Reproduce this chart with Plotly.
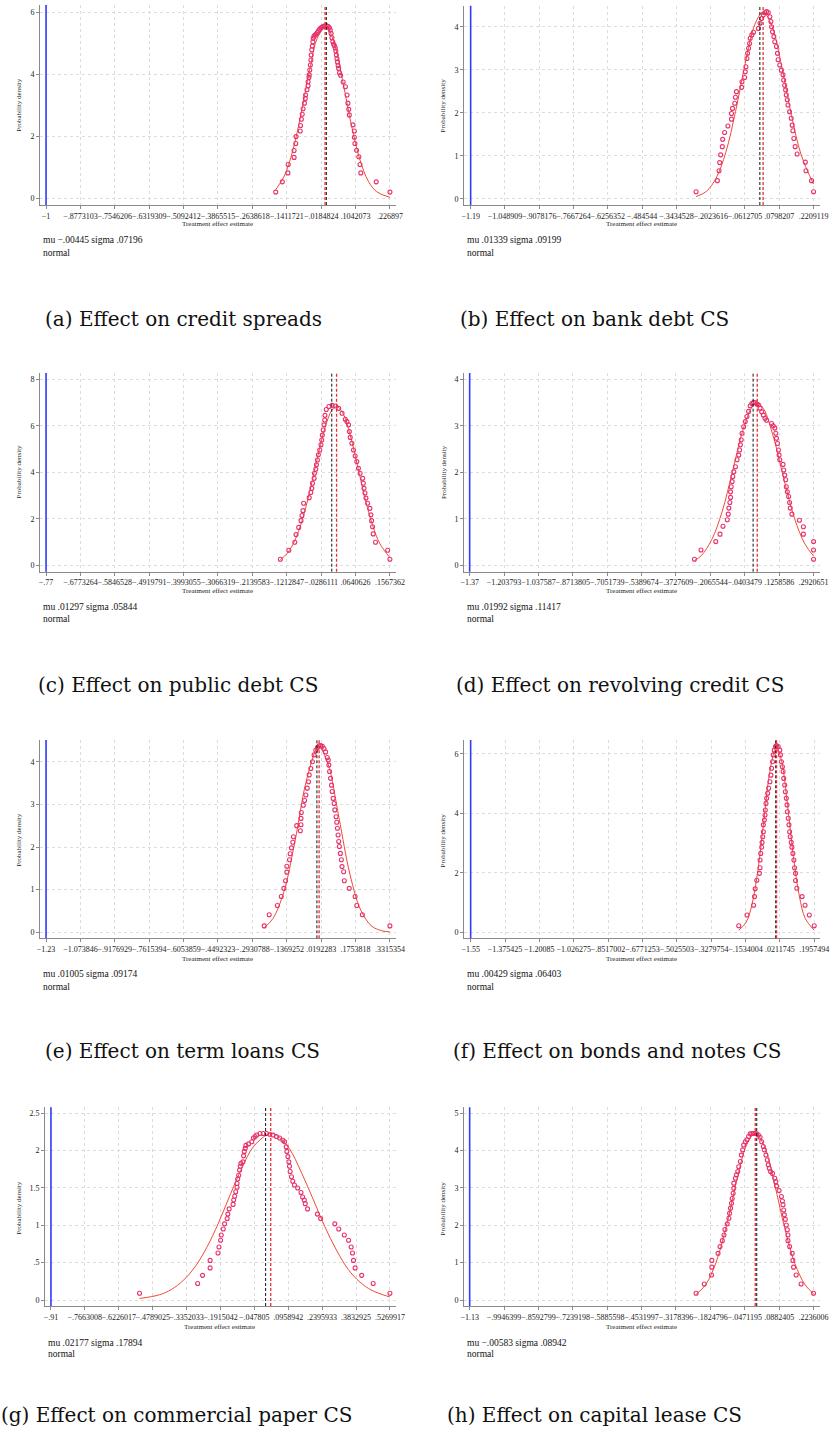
import plotly.graph_objects as go

W, H = 838, 1436

# ---------------- data ----------------
captions = ["(a) Effect on credit spreads", "(b) Effect on bank debt CS",
            "(c) Effect on public debt CS", "(d) Effect on revolving credit CS",
            "(e) Effect on term loans CS", "(f) Effect on bonds and notes CS",
            "(g) Effect on commercial paper CS", "(h) Effect on capital lease CS"]
notes = ["mu −.00445 sigma .07196", "mu .01339 sigma .09199", "mu .01297 sigma .05844",
         "mu .01992 sigma .11417", "mu .01005 sigma .09174", "mu .00429 sigma .06403",
         "mu .02177 sigma .17894", "mu −.00583 sigma .08942"]
mu = [-0.00445, 0.01339, 0.01297, 0.01992, 0.01005, 0.00429, 0.02177, -0.00583]
actual = [-1.0, -1.19, -0.77, -1.37, -1.23, -1.55, -0.91, -1.13]
zero_ref = 0.0

xticks_a = ["−1", "−.8773103", "−.7546206", "−.6319309", "−.5092412", "−.3865515", "−.2638618", "−.1411721", "−.0184824", ".1042073", ".226897"]
xticks_b = ["−1.19", "−1.048909", "−.9078176", "−.7667264", "−.6256352", "−.484544", "−.3434528", "−.2023616", "−.0612705", ".0798207", ".2209119"]
xticks_c = ["−.77", "−.6773264", "−.5846528", "−.4919791", "−.3993055", "−.3066319", "−.2139583", "−.1212847", "−.0286111", ".0640626", ".1567362"]
xticks_d = ["−1.37", "−1.203793", "−1.037587", "−.8713805", "−.7051739", "−.5389674", "−.3727609", "−.2065544", "−.0403479", ".1258586", ".2920651"]
xticks_e = ["−1.23", "−1.073846", "−.9176929", "−.7615394", "−.6053859", "−.4492323", "−.2930788", "−.1369252", ".0192283", ".1753818", ".3315354"]
xticks_f = ["−1.55", "−1.375425", "−1.20085", "−1.026275", "−.8517002", "−.6771253", "−.5025503", "−.3279754", "−.1534004", ".0211745", ".1957494"]
xticks_g = ["−.91", "−.7663008", "−.6226017", "−.4789025", "−.3352033", "−.1915042", "−.047805", ".0958942", ".2395933", ".3832925", ".5269917"]
xticks_h = ["−1.13", "−.9946399", "−.8592799", "−.7239198", "−.5885598", "−.4531997", "−.3178396", "−.1824796", "−.0471195", ".0882405", ".2236006"]

yticks_a = ["0", "2", "4", "6"]
yticks_b = ["0", "1", "2", "3", "4"]
yticks_c = ["0", "2", "4", "6", "8"]
yticks_d = ["0", "1", "2", "3", "4"]
yticks_e = ["0", "1", "2", "3", "4"]
yticks_f = ["0", "2", "4", "6"]
yticks_g = ["0", ".5", "1", "1.5", "2", "2.5"]
yticks_h = ["0", "1", "2", "3", "4", "5"]

# kernel density points (x, density)
dots_a = [(-0.1805, 0.20), (-0.157, 0.53), (-0.137, 0.82), (-0.136, 1.09), (-0.115, 1.32), (-0.115, 1.54),
          (-0.109, 1.77), (-0.108, 1.99), (-0.093, 2.17), (-0.092, 2.35), (-0.089, 2.55), (-0.086, 2.71),
          (-0.083, 2.89), (-0.078, 3.07), (-0.075, 3.22), (-0.074, 3.33), (-0.069, 3.50), (-0.065, 3.63),
          (-0.065, 3.76), (-0.062, 3.90), (-0.061, 3.98), (-0.059, 4.14), (-0.057, 4.30), (-0.055, 4.46),
          (-0.054, 4.62), (-0.052, 4.79), (-0.050, 4.91), (-0.048, 5.05), (-0.047, 5.16), (-0.044, 5.23),
          (-0.040, 5.27), (-0.036, 5.30), (-0.032, 5.35), (-0.028, 5.40), (-0.024, 5.45), (-0.020, 5.49),
          (-0.016, 5.52), (-0.011, 5.55), (-0.006, 5.56), (-0.001, 5.57), (0.003, 5.56), (0.007, 5.54),
          (0.011, 5.50), (0.014, 5.43), (0.017, 5.32), (0.020, 5.18), (0.023, 5.05), (0.026, 4.97),
          (0.029, 4.92), (0.032, 4.85), (0.034, 4.75), (0.036, 4.62), (0.038, 4.50), (0.040, 4.40),
          (0.042, 4.28), (0.044, 4.19), (0.047, 4.05), (0.051, 3.97), (0.060, 3.75), (0.068, 3.60),
          (0.074, 3.33), (0.077, 3.07), (0.080, 2.87), (0.082, 2.69), (0.095, 2.37), (0.100, 2.17),
          (0.100, 1.97), (0.102, 1.77), (0.108, 1.55), (0.116, 1.34), (0.120, 1.09), (0.123, 0.82),
          (0.178, 0.53), (0.227, 0.20)]
dots_b = [(-0.2625, 0.16), (-0.1747, 0.42), (-0.168, 0.65), (-0.1653, 0.84), (-0.1612, 1.02), (-0.1545, 1.21),
          (-0.1531, 1.38), (-0.145, 1.54), (-0.1315, 1.69), (-0.1167, 1.85), (-0.1167, 1.98), (-0.1126, 2.10),
          (-0.1032, 2.22), (-0.1005, 2.36), (-0.0964, 2.49), (-0.0748, 2.59), (-0.0735, 2.72), (-0.0626, 2.82),
          (-0.0600, 2.95), (-0.0573, 3.07), (-0.0532, 3.26), (-0.0505, 3.38), (-0.0465, 3.50), (-0.0424, 3.61),
          (-0.0397, 3.73), (-0.033, 3.81), (-0.0262, 3.87), (-0.006, 3.96), (0.0008, 4.08), (0.0076, 4.19),
          (0.0143, 4.27), (0.021, 4.33), (0.0278, 4.35), (0.0346, 4.33), (0.0413, 4.23), (0.0454, 4.12),
          (0.0481, 4.00), (0.0521, 3.88), (0.0575, 3.77), (0.0616, 3.65), (0.0683, 3.54), (0.0724, 3.38),
          (0.0751, 3.23), (0.0818, 3.11), (0.0886, 2.99), (0.0953, 2.88), (0.098, 2.76), (0.1021, 2.64),
          (0.1061, 2.53), (0.1088, 2.41), (0.1129, 2.30), (0.1156, 2.18), (0.1223, 2.02), (0.1291, 1.87),
          (0.1331, 1.71), (0.1358, 1.58), (0.1399, 1.40), (0.1453, 1.21), (0.1534, 1.04), (0.1871, 0.85),
          (0.1898, 0.65), (0.2128, 0.42), (0.2209, 0.16)]
dots_c = [(-0.1386, 0.26), (-0.1156, 0.65), (-0.0997, 0.99), (-0.0962, 1.32), (-0.0891, 1.63), (-0.0829, 1.92),
          (-0.0803, 2.14), (-0.0776, 2.35), (-0.0758, 2.67), (-0.0608, 2.91), (-0.0564, 3.13), (-0.0537, 3.31),
          (-0.0520, 3.53), (-0.0475, 3.74), (-0.0466, 3.96), (-0.0431, 4.13), (-0.0413, 4.32), (-0.0387, 4.53),
          (-0.0360, 4.75), (-0.0325, 4.96), (-0.029, 5.18), (-0.027, 5.39), (-0.0254, 5.60), (-0.023, 5.82),
          (-0.021, 6.04), (-0.019, 6.25), (-0.0183, 6.45), (-0.0148, 6.70), (-0.0077, 6.83), (0.0011, 6.88),
          (0.01, 6.85), (0.0188, 6.75), (0.0277, 6.54), (0.0365, 6.28), (0.0409, 6.18), (0.0453, 6.04),
          (0.0475, 5.75), (0.0498, 5.50), (0.0542, 5.25), (0.0586, 4.96), (0.063, 4.70), (0.0675, 4.46),
          (0.0719, 4.17), (0.0763, 3.96), (0.0834, 3.74), (0.0851, 3.53), (0.0869, 3.31), (0.0895, 3.11),
          (0.0922, 2.89), (0.0966, 2.67), (0.1028, 2.45), (0.1055, 2.17), (0.1073, 1.92), (0.1099, 1.66),
          (0.1117, 1.35), (0.1179, 0.99), (0.1506, 0.65), (0.1567, 0.26)]
dots_d = [(-0.2836, 0.13), (-0.2519, 0.33), (-0.1805, 0.51), (-0.1599, 0.67), (-0.1456, 0.84), (-0.125, 0.98),
          (-0.1202, 1.10), (-0.1171, 1.23), (-0.1123, 1.35), (-0.1091, 1.46), (-0.1091, 1.58), (-0.106, 1.69),
          (-0.1012, 1.80), (-0.0981, 1.91), (-0.0933, 2.01), (-0.0853, 2.12), (-0.0774, 2.27), (-0.0694, 2.37),
          (-0.0655, 2.48), (-0.0615, 2.59), (-0.0575, 2.70), (-0.0536, 2.84), (-0.0457, 2.98), (-0.0378, 3.09),
          (-0.0298, 3.20), (-0.0219, 3.31), (-0.014, 3.43), (-0.006, 3.48), (0.0019, 3.50), (0.0098, 3.50),
          (0.0178, 3.47), (0.0257, 3.45), (0.0336, 3.38), (0.0415, 3.30), (0.0495, 3.23), (0.0574, 3.16),
          (0.0653, 3.12), (0.0891, 3.05), (0.0970, 3.00), (0.105, 2.95), (0.1097, 2.84), (0.1129, 2.73),
          (0.1177, 2.62), (0.1224, 2.48), (0.1256, 2.37), (0.1288, 2.27), (0.1447, 2.17), (0.1478, 2.05),
          (0.1526, 1.94), (0.1573, 1.84), (0.1605, 1.69), (0.1653, 1.58), (0.1716, 1.48), (0.1764, 1.35),
          (0.1795, 1.23), (0.1874, 1.10), (0.2239, 0.97), (0.2429, 0.83), (0.2429, 0.67), (0.2921, 0.51),
          (0.2921, 0.33), (0.2921, 0.13)]
dots_e = [(-0.2392, 0.15), (-0.2168, 0.41), (-0.1796, 0.63), (-0.1617, 0.84), (-0.1498, 1.03), (-0.1423, 1.21),
          (-0.1364, 1.41), (-0.1364, 1.55), (-0.1244, 1.70), (-0.1214, 1.84), (-0.1155, 1.98), (-0.1095, 2.11),
          (-0.1065, 2.24), (-0.0917, 2.50), (-0.0753, 2.38), (-0.0723, 2.52), (-0.0723, 2.67), (-0.0708, 2.81),
          (-0.0619, 2.98), (-0.0559, 3.09), (-0.05, 3.22), (-0.044, 3.38), (-0.038, 3.53), (-0.0351, 3.69),
          (-0.0276, 3.84), (-0.0202, 4.00), (-0.0127, 4.16), (-0.0052, 4.27), (0.0022, 4.33), (0.0097, 4.37),
          (0.0171, 4.38), (0.0246, 4.36), (0.032, 4.31), (0.0395, 4.23), (0.047, 4.10), (0.0514, 4.04),
          (0.0544, 3.92), (0.0574, 3.77), (0.0618, 3.61), (0.0663, 3.45), (0.0693, 3.30), (0.0738, 3.14),
          (0.0782, 3.02), (0.0812, 2.87), (0.0872, 2.71), (0.0901, 2.58), (0.0931, 2.44), (0.0961, 2.28),
          (0.0991, 2.13), (0.1021, 2.01), (0.1066, 1.85), (0.1111, 1.70), (0.114, 1.54), (0.1215, 1.42),
          (0.1245, 1.21), (0.1468, 1.03), (0.1736, 0.84), (0.1811, 0.63), (0.2064, 0.41), (0.3315, 0.15)]
dots_f = [(-0.1877, 0.22), (-0.146, 0.58), (-0.1127, 0.91), (-0.1077, 1.20), (-0.1044, 1.46), (-0.096, 1.75),
          (-0.0827, 1.98), (-0.0794, 2.17), (-0.0794, 2.43), (-0.076, 2.65), (-0.071, 2.86), (-0.0693, 3.02),
          (-0.066, 3.21), (-0.0627, 3.38), (-0.0627, 3.61), (-0.0577, 3.77), (-0.0543, 3.94), (-0.0527, 4.11),
          (-0.0493, 4.33), (-0.046, 4.50), (-0.041, 4.67), (-0.036, 4.84), (-0.0293, 5.06), (-0.0243, 5.28),
          (-0.021, 5.51), (-0.016, 5.73), (-0.0126, 5.96), (-0.0076, 6.12), (-0.001, 6.24), (0.004, 6.27),
          (0.0124, 6.24), (0.0207, 6.12), (0.024, 5.96), (0.029, 5.73), (0.034, 5.56), (0.0374, 5.40),
          (0.0407, 5.17), (0.0457, 4.95), (0.049, 4.72), (0.054, 4.50), (0.0574, 4.28), (0.059, 4.05),
          (0.064, 3.83), (0.0674, 3.61), (0.0707, 3.38), (0.074, 3.21), (0.079, 3.02), (0.0824, 2.86),
          (0.0874, 2.65), (0.0924, 2.43), (0.0957, 2.17), (0.1007, 1.98), (0.1007, 1.74), (0.1074, 1.48),
          (0.1341, 1.20), (0.1491, 0.91), (0.1708, 0.58), (0.1957, 0.22)]
dots_g = [(-0.5344, 0.09), (-0.2882, 0.22), (-0.2673, 0.33), (-0.2353, 0.43), (-0.2353, 0.53), (-0.2019, 0.63),
          (-0.1977, 0.71), (-0.1908, 0.80), (-0.188, 0.87), (-0.1796, 0.95), (-0.174, 1.02), (-0.1629, 1.09),
          (-0.1601, 1.15), (-0.1546, 1.22), (-0.1379, 1.28), (-0.1352, 1.34), (-0.131, 1.39), (-0.1268, 1.45),
          (-0.1212, 1.51), (-0.1212, 1.56), (-0.1184, 1.62), (-0.1143, 1.67), (-0.1101, 1.74), (-0.1073, 1.79),
          (-0.1045, 1.83), (-0.0962, 1.85), (-0.0934, 1.93), (-0.0906, 1.99), (-0.0864, 2.03), (-0.0836, 2.07),
          (-0.0725, 2.09), (-0.0587, 2.12), (-0.0517, 2.17), (-0.0447, 2.19), (-0.0378, 2.21), (-0.0239, 2.23),
          (-0.01, 2.23), (0.0039, 2.23), (0.0179, 2.22), (0.0318, 2.21), (0.0457, 2.19), (0.0596, 2.17),
          (0.0735, 2.14), (0.0805, 2.12), (0.0874, 2.05), (0.0902, 1.99), (0.0944, 1.92), (0.0985, 1.85),
          (0.1013, 1.79), (0.1041, 1.72), (0.1097, 1.65), (0.1152, 1.59), (0.1222, 1.54), (0.1361, 1.50),
          (0.15, 1.44), (0.157, 1.38), (0.1639, 1.34), (0.1681, 1.29), (0.1778, 1.22), (0.2195, 1.15),
          (0.2334, 1.09), (0.2933, 1.02), (0.31, 0.95), (0.3336, 0.87), (0.3517, 0.80), (0.3628, 0.71),
          (0.3684, 0.63), (0.3726, 0.53), (0.3795, 0.43), (0.4073, 0.33), (0.456, 0.22), (0.527, 0.09)]
dots_h = [(-0.2388, 0.18), (-0.2065, 0.43), (-0.1781, 0.67), (-0.1768, 0.88), (-0.1768, 1.06), (-0.1522, 1.25),
          (-0.1445, 1.43), (-0.1355, 1.59), (-0.129, 1.74), (-0.1252, 1.89), (-0.1161, 2.04), (-0.1097, 2.19),
          (-0.1071, 2.32), (-0.1032, 2.46), (-0.0993, 2.59), (-0.0967, 2.72), (-0.0929, 2.86), (-0.0903, 2.99),
          (-0.0903, 3.13), (-0.0838, 3.26), (-0.0799, 3.35), (-0.0747, 3.44), (-0.0709, 3.57), (-0.0644, 3.71),
          (-0.0605, 3.88), (-0.0554, 4.02), (-0.0515, 4.15), (-0.0451, 4.24), (-0.0386, 4.29), (-0.0322, 4.38),
          (-0.0257, 4.45), (-0.0192, 4.46), (-0.0128, 4.46), (-0.0063, 4.46), (0.0002, 4.45), (0.0066, 4.42),
          (0.0131, 4.36), (0.0195, 4.24), (0.026, 4.11), (0.0299, 4.02), (0.0363, 3.88), (0.0415, 3.75),
          (0.0454, 3.62), (0.0493, 3.53), (0.0544, 3.44), (0.0621, 3.39), (0.0712, 3.26), (0.0751, 3.17),
          (0.0777, 3.05), (0.088, 2.93), (0.0971, 2.77), (0.101, 2.65), (0.1035, 2.55), (0.1061, 2.41),
          (0.1087, 2.28), (0.1126, 2.16), (0.1164, 2.01), (0.1203, 1.88), (0.1229, 1.74), (0.1229, 1.59),
          (0.1294, 1.43), (0.1397, 1.25), (0.1423, 1.06), (0.1449, 0.88), (0.1552, 0.67), (0.1746, 0.43),
          (0.2236, 0.18)]

# normal density curve (x, density)
curve_a = [(-0.1805, 0.28), (-0.15, 0.72), (-0.12, 1.53), (-0.09, 2.73), (-0.06, 4.12), (-0.03, 5.21),
           (0.0, 5.53), (0.03, 4.94), (0.06, 3.71), (0.09, 2.34), (0.12, 1.24), (0.15, 0.55), (0.18, 0.21),
           (0.227, 0.03)]
curve_b = [(-0.2625, 0.05), (-0.22, 0.17), (-0.18, 0.48), (-0.14, 1.08), (-0.10, 2.03), (-0.06, 3.15),
           (-0.02, 4.06), (0.013, 4.34), (0.05, 4.01), (0.09, 3.07), (0.13, 1.94), (0.17, 1.02), (0.2209, 0.34)]
curve_c = [(-0.1386, 0.24), (-0.12, 0.51), (-0.10, 1.05), (-0.08, 1.92), (-0.06, 3.13), (-0.04, 4.53),
           (-0.02, 5.82), (0.0, 6.66), (0.013, 6.83), (0.03, 6.54), (0.05, 5.58), (0.07, 4.24), (0.09, 2.86),
           (0.11, 1.72), (0.13, 0.92), (0.1567, 0.33)]
curve_d = [(-0.2836, 0.10), (-0.25, 0.21), (-0.20, 0.55), (-0.15, 1.15), (-0.10, 2.01), (-0.05, 2.90),
           (0.0, 3.44), (0.02, 3.49), (0.05, 3.37), (0.10, 2.73), (0.15, 1.83), (0.20, 1.01), (0.25, 0.46),
           (0.2921, 0.20)]
curve_e = [(-0.2392, 0.11), (-0.20, 0.32), (-0.15, 0.95), (-0.10, 2.12), (-0.05, 3.51), (0.0, 4.32),
           (0.01, 4.35), (0.05, 3.96), (0.10, 2.69), (0.15, 1.36), (0.20, 0.51), (0.25, 0.14), (0.30, 0.03),
           (0.3315, 0.01)]
curve_f = [(-0.1877, 0.07), (-0.15, 0.34), (-0.12, 0.95), (-0.09, 2.11), (-0.06, 3.76), (-0.03, 5.40),
           (0.0, 6.22), (0.004, 6.23), (0.03, 5.75), (0.06, 4.27), (0.09, 2.54), (0.12, 1.22), (0.15, 0.47),
           (0.1957, 0.07)]
curve_g = [(-0.5344, 0.02), (-0.45, 0.07), (-0.40, 0.14), (-0.35, 0.26), (-0.30, 0.44), (-0.25, 0.70),
           (-0.20, 1.03), (-0.15, 1.41), (-0.10, 1.77), (-0.05, 2.06), (0.02, 2.23), (0.05, 2.20), (0.10, 2.03),
           (0.15, 1.72), (0.20, 1.36), (0.25, 0.99), (0.30, 0.67), (0.35, 0.41), (0.40, 0.24), (0.45, 0.13),
           (0.527, 0.04)]
curve_h = [(-0.2388, 0.15), (-0.20, 0.42), (-0.16, 1.01), (-0.12, 1.97), (-0.08, 3.16), (-0.04, 4.15),
           (-0.006, 4.46), (0.03, 4.12), (0.07, 3.11), (0.11, 1.93), (0.15, 0.98), (0.19, 0.41), (0.2236, 0.17)]

XTICKS = [xticks_a, xticks_b, xticks_c, xticks_d, xticks_e, xticks_f, xticks_g, xticks_h]
YTICKS = [yticks_a, yticks_b, yticks_c, yticks_d, yticks_e, yticks_f, yticks_g, yticks_h]
DOTS = [dots_a, dots_b, dots_c, dots_d, dots_e, dots_f, dots_g, dots_h]
CURVES = [curve_a, curve_b, curve_c, curve_d, curve_e, curve_f, curve_g, curve_h]

# ---------------- layout geometry (pixels) ----------------
# L,R,T,B: plot area edges; p0/p1: px of first/last x tick; q0/q1: px of y=0 / top y tick
GEOM = [
    dict(L=36.7, R=398.3, T=5.0, B=205.0, p0=42.7, p1=392.0, q0=198.3, q1=12.3),
    dict(L=467.3, R=828.7, T=5.7, B=205.0, p0=474.0, p1=822.3, q0=198.7, q1=26.7),
    dict(L=36.7, R=398.3, T=373.0, B=571.7, p0=42.7, p1=392.0, q0=565.3, q1=379.3),
    dict(L=467.3, R=828.7, T=373.0, B=571.7, p0=473.0, p1=822.3, q0=565.3, q1=379.3),
    dict(L=36.7, R=398.3, T=740.0, B=938.3, p0=42.7, p1=392.0, q0=932.3, q1=761.7),
    dict(L=467.3, R=828.7, T=740.0, B=938.3, p0=474.0, p1=823.0, q0=932.3, q1=753.7),
    dict(L=41.7, R=398.3, T=1107.3, B=1306.0, p0=47.7, p1=392.0, q0=1300.0, q1=1113.3),
    dict(L=467.3, R=828.7, T=1107.3, B=1306.0, p0=473.0, p1=822.3, q0=1300.0, q1=1113.3),
]
YTITLE_POS = [(15, 105), (446.3, 105), (15, 471.7), (446.3, 471.7), (15, 840), (446.3, 840), (15, 1208), (446.3, 1208)]
XTITLE_POS = [(216.7, 224.3), (648, 224.3), (216.7, 591), (648, 591), (216.7, 959.3), (648, 959.3), (219.3, 1326.7), (648, 1326.7)]
NOTE_POS = [(37.3, 240, 252.7), (468, 240, 252.7), (37.3, 606.7, 619.3), (468, 606.7, 619.3),
            (37.3, 974.3, 986.7), (468, 974.3, 986.7), (42.7, 1342.7, 1354.3), (468, 1342.7, 1354.3)]
CAP_POS = [(182, 319), (600, 319), (177, 685), (626, 685), (181, 1051), (623, 1051), (175, 1415), (600, 1415)]

SERIF = "Liberation Serif"
CAPFONT = "DejaVu Serif"
DOT_COLOR = "#E6336C"
CURVE_COLOR = "#EE4B35"
AXIS_COLOR = "#8a8a8a"
GRID_COLOR = "#dcdcdc"


def num(s):
    return float(s.replace("−", "-"))


def px(x, y):
    return x / W, 1 - y / H


fig = go.Figure()
layout = dict(width=W, height=H, margin=dict(l=0, r=0, t=0, b=0), paper_bgcolor="white",
              plot_bgcolor="white", showlegend=False, font=dict(family=SERIF, color="#222"))
shapes, annotations = [], []

for i in range(8):
    g = GEOM[i]
    sfx = "" if i == 0 else str(i + 1)
    xv = [num(s) for s in XTICKS[i]]
    yv = [num(s) for s in YTICKS[i]]
    sx = (g["p1"] - g["p0"]) / (xv[-1] - xv[0])
    xr = [xv[0] - (g["p0"] - g["L"]) / sx, xv[-1] + (g["R"] - g["p1"]) / sx]
    sy = (g["q0"] - g["q1"]) / yv[-1]
    yr = [-(g["B"] - g["q0"]) / sy, yv[-1] + (g["q1"] - g["T"]) / sy]

    cx = [c[0] for c in CURVES[i]]
    cy = [c[1] for c in CURVES[i]]
    fig.add_trace(go.Scatter(x=cx, y=cy, mode="lines", line=dict(color=CURVE_COLOR, width=1, shape="spline", smoothing=1),
                             xaxis="x" + sfx, yaxis="y" + sfx, hoverinfo="skip"))
    dx = [d[0] for d in DOTS[i]]
    dy = [d[1] for d in DOTS[i]]
    fig.add_trace(go.Scatter(x=dx, y=dy, mode="markers", cliponaxis=False,
                             marker=dict(symbol="circle-open", size=4, color=DOT_COLOR, line=dict(width=1.1, color=DOT_COLOR)),
                             xaxis="x" + sfx, yaxis="y" + sfx, hoverinfo="skip"))

    axis_common = dict(showline=True, linecolor=AXIS_COLOR, linewidth=1, ticks="outside", ticklen=3,
                       tickcolor=AXIS_COLOR, tickwidth=1, showgrid=True, gridcolor=GRID_COLOR, griddash="dot",
                       gridwidth=1, zeroline=False, tickfont=dict(family=SERIF, size=8, color="#222"), fixedrange=True)
    layout["xaxis" + sfx] = dict(domain=[g["L"] / W, g["R"] / W], range=xr, anchor="y" + sfx,
                                 tickmode="array", tickvals=xv, ticktext=XTICKS[i], tickangle=0, **axis_common)
    layout["yaxis" + sfx] = dict(domain=[1 - g["B"] / H, 1 - g["T"] / H], range=yr, anchor="x" + sfx,
                                 tickmode="array", tickvals=yv, ticktext=YTICKS[i], **axis_common)

    xref, yref = "x" + sfx, "y" + sfx + " domain"
    shapes.append(dict(type="line", xref=xref, yref=yref, x0=actual[i], x1=actual[i], y0=0, y1=1,
                       line=dict(color="#2f3cff", width=1.6)))
    shapes.append(dict(type="line", xref=xref, yref=yref, x0=zero_ref, x1=zero_ref, y0=0, y1=1,
                       line=dict(color="#111111", width=1, dash="3px,2px")))
    shapes.append(dict(type="line", xref=xref, yref=yref, x0=mu[i], x1=mu[i], y0=0, y1=1,
                       line=dict(color="#E8302E", width=1.3, dash="3px,2px")))

    tx, ty = px(*YTITLE_POS[i])
    annotations.append(dict(text="Probability density", x=tx, y=ty, xref="paper", yref="paper", showarrow=False,
                            textangle=-90, xanchor="center", yanchor="middle", font=dict(family=SERIF, size=7, color="#222")))
    tx, ty = px(*XTITLE_POS[i])
    annotations.append(dict(text="Treatment effect estimate", x=tx, y=ty, xref="paper", yref="paper", showarrow=False,
                            xanchor="center", yanchor="middle", font=dict(family=SERIF, size=7, color="#222")))
    nx, ny1, ny2 = NOTE_POS[i]
    a, b = px(nx, ny1)
    annotations.append(dict(text=notes[i], x=a, y=b, xref="paper", yref="paper", showarrow=False,
                            xanchor="left", yanchor="middle", font=dict(family=SERIF, size=9.5, color="#111")))
    a, b = px(nx, ny2)
    annotations.append(dict(text="normal", x=a, y=b, xref="paper", yref="paper", showarrow=False,
                            xanchor="left", yanchor="middle", font=dict(family=SERIF, size=9.5, color="#111")))
    a, b = px(*CAP_POS[i])
    annotations.append(dict(text=captions[i], x=a, y=b, xref="paper", yref="paper", showarrow=False,
                            xanchor="center", yanchor="middle", font=dict(family=CAPFONT, size=20, color="#111")))

layout["shapes"] = shapes
layout["annotations"] = annotations
fig.update_layout(**layout)
fig.write_html("out.html")
